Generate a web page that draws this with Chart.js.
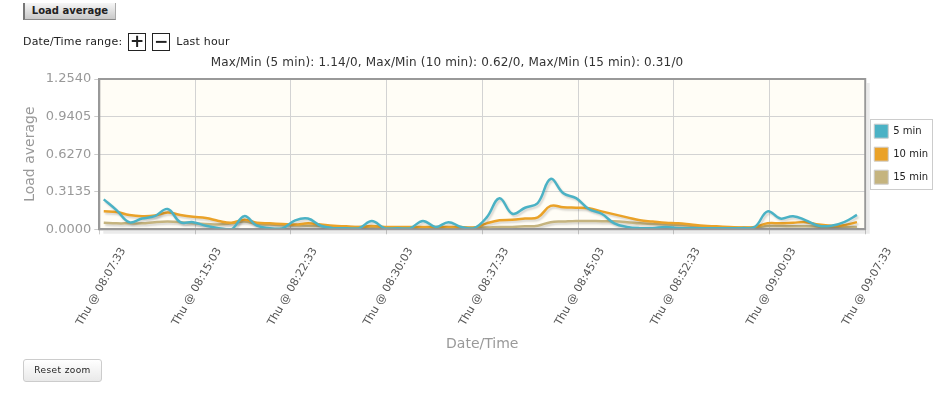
<!DOCTYPE html>
<html>
<head>
<meta charset="utf-8">
<script src="https://cdn.jsdelivr.net/npm/chart.js@4.4.1/dist/chart.umd.min.js"></script>
<style>
  html, body { margin: 0; padding: 0; background: #fff; }
  body { width: 940px; height: 394px; position: relative; overflow: hidden;
         font-family: "DejaVu Sans", Verdana, sans-serif; color: #222; }
  #chart { position: absolute; left: 0; top: 0; }
  .btn-load { position: absolute; left: 23px; top: 3px; width: 93px; height: 17px;
              background: linear-gradient(#f6f6f6, #c9c9c9); border-left: 2px solid #777;
              border-bottom: 1px solid #888; border-right: 1px solid #aaa; box-sizing: border-box;
              font-weight: bold; font-size: 10px; line-height: 16px; text-align: center; }
  .range { position: absolute; left: 23px; top: 33px; font-size: 11px; line-height: 18px; letter-spacing: 0.2px; }
  .range span { display: inline-block; vertical-align: top; }
  .zbox { width: 16px; height: 16px; border: 1px solid #222; background: #fff; margin-left: 6px;
          font-weight: bold; font-size: 17px; line-height: 15px; text-align: center; }
  .title { position: absolute; left: 0; top: 55px; width: 894px; text-align: center;
           font-size: 12px; letter-spacing: 0.15px; color: #333; }
  .reset { position: absolute; left: 23px; top: 359px; width: 79px; height: 23px; box-sizing: border-box;
           border: 1px solid #ccc; border-radius: 3px; background: linear-gradient(#fff, #e9e9e9);
           font-size: 9px; letter-spacing: 0.4px; line-height: 21px; text-align: center; color: #222; }
</style>
</head>
<body>
<canvas id="chart" width="940" height="394"></canvas>
<div class="btn-load">Load average</div>
<div class="range"><span>Date/Time range:</span><span class="zbox">+</span><span class="zbox">&minus;</span><span style="margin-left:6px">Last hour</span></div>
<div class="title">Max/Min (5 min): 1.14/0, Max/Min (10 min): 0.62/0, Max/Min (15 min): 0.31/0</div>
<div class="reset">Reset zoom</div>
<script>
// series names
const seriesNames = ['5 min', '10 min', '15 min'];
// load averages, one sample per minute
const load5 = [0.25, 0.16, 0.06, 0.09, 0.11, 0.17, 0.06, 0.06, 0.03, 0.01,
  0.00, 0.11, 0.03, 0.01, 0.01, 0.075, 0.09, 0.03, 0.01, 0.01,
  0.01, 0.07, 0.01, 0.01, 0.01, 0.07, 0.02, 0.06, 0.02, 0.01,
  0.10, 0.26, 0.13, 0.18, 0.22, 0.42, 0.30, 0.26, 0.17, 0.13,
  0.05, 0.02, 0.01, 0.01, 0.02, 0.01, 0.01, 0.01, 0.01, 0.01,
  0.01, 0.02, 0.15, 0.09, 0.11, 0.075, 0.03, 0.03, 0.06, 0.12];
const load10 = [0.15, 0.145, 0.12, 0.11, 0.115, 0.14, 0.12, 0.105, 0.095, 0.07,
  0.055, 0.08, 0.055, 0.05, 0.045, 0.04, 0.05, 0.04, 0.03, 0.025,
  0.02, 0.027, 0.02, 0.02, 0.02, 0.02, 0.02, 0.02, 0.02, 0.015,
  0.05, 0.075, 0.08, 0.09, 0.10, 0.195, 0.185, 0.18, 0.175, 0.15,
  0.125, 0.10, 0.075, 0.065, 0.055, 0.05, 0.04, 0.03, 0.025, 0.02,
  0.015, 0.02, 0.05, 0.05, 0.055, 0.06, 0.04, 0.03, 0.035, 0.06];
const load15 = [0.055, 0.05, 0.05, 0.05, 0.06, 0.065, 0.06, 0.05, 0.045, 0.04,
  0.05, 0.065, 0.045, 0.04, 0.035, 0.033, 0.03, 0.027, 0.025, 0.02,
  0.02, 0.02, 0.015, 0.015, 0.015, 0.015, 0.015, 0.015, 0.015, 0.015,
  0.015, 0.02, 0.02, 0.025, 0.03, 0.06, 0.065, 0.07, 0.07, 0.068,
  0.067, 0.06, 0.05, 0.045, 0.04, 0.035, 0.03, 0.02, 0.015, 0.015,
  0.015, 0.015, 0.027, 0.027, 0.025, 0.025, 0.022, 0.02, 0.02, 0.02];
// minutes after 08:07:33 of the first sample
const firstSample = 0.35;
// axis ticks
const yTicks = [0, 0.3135, 0.6270, 0.9405, 1.2540];
const xTickMinutes = [0, 7.5, 15, 22.5, 30, 37.5, 45, 52.5, 60];
const xTickLabels = ['Thu @ 08:07:33', 'Thu @ 08:15:03', 'Thu @ 08:22:33', 'Thu @ 08:30:03',
  'Thu @ 08:37:33', 'Thu @ 08:45:03', 'Thu @ 08:52:33', 'Thu @ 09:00:03', 'Thu @ 09:07:33'];

const colors = ['#4bb2c5', '#eaa228', '#c5b47f'];

const toPoints = arr => arr.map((v, i) => ({ x: firstSample + i, y: v }));

// cream plot background + border
const plotFrame = {
  id: 'plotFrame',
  beforeDraw(chart) {
    const { ctx, chartArea: a } = chart;
    ctx.save();
    ctx.fillStyle = '#fffdf6';
    ctx.fillRect(a.left, a.top, a.right - a.left, a.bottom - a.top);
    ctx.restore();
  },
  afterDraw(chart) {
    const { ctx, chartArea: a } = chart;
    ctx.save();
    ctx.strokeStyle = 'rgba(0,0,0,0.08)';
    ctx.lineWidth = 3;
    ctx.beginPath();
    ctx.moveTo(a.right + 3, a.top + 4);
    ctx.lineTo(a.right + 3, a.bottom + 3);
    ctx.lineTo(a.left + 4, a.bottom + 3);
    ctx.stroke();
    ctx.strokeStyle = '#999';
    ctx.lineWidth = 2;
    ctx.strokeRect(a.left, a.top, a.right - a.left, a.bottom - a.top);
    // legend frame
    const boxes = chart.legend.legendHitBoxes;
    if (boxes && boxes.length) {
      const l = Math.min(...boxes.map(b => b.left)) - 4;
      const t = Math.min(...boxes.map(b => b.top)) - 5;
      const r = Math.max(...boxes.map(b => b.left + b.width)) + 4;
      const btm = Math.max(...boxes.map(b => b.top + b.height)) + 5;
      ctx.strokeStyle = '#ccc';
      ctx.lineWidth = 1;
      ctx.strokeRect(Math.round(l) + 0.5, Math.round(t) + 0.5, Math.round(r - l), Math.round(btm - t));
    }
    ctx.restore();
  }
};

// soft shadow under the lines
const lineShadow = {
  id: 'lineShadow',
  beforeDatasetDraw(chart) {
    const ctx = chart.ctx;
    ctx.save();
    ctx.shadowColor = 'rgba(0,0,0,0.16)';
    ctx.shadowOffsetX = 1.5;
    ctx.shadowOffsetY = 2;
    ctx.shadowBlur = 2;
  },
  afterDatasetDraw(chart) {
    chart.ctx.restore();
  }
};

const loadData = {
  datasets: [load5, load10, load15].map((arr, i) => ({
    label: seriesNames[i],
    data: toPoints(arr),
    borderColor: colors[i],
    backgroundColor: colors[i],
    borderWidth: 2.5,
    pointRadius: 0,
    tension: 0.4,
    fill: false
  }))
};

const loadOptions = {
  responsive: false,
  animation: false,
  layout: { padding: { left: 22, top: 79, right: 2, bottom: 41 } },
  scales: {
    x: {
      type: 'linear',
      min: 0,
      max: 60,
      afterBuildTicks: axis => { axis.ticks = xTickMinutes.map(v => ({ value: v })); },
      ticks: {
        callback: (v, i) => xTickLabels[i],
        minRotation: 60,
        maxRotation: 60,
        labelOffset: 24,
        padding: 11,
        color: '#555',
        font: { family: 'DejaVu Sans', size: 11 }
      },
      grid: { color: '#d3d3d3', tickLength: 5, tickColor: '#ccc' },
      border: { color: '#999', width: 2 },
      title: { display: true, text: 'Date/Time', color: '#999',
               font: { family: 'DejaVu Sans', size: 14 }, padding: { top: -3, bottom: 0 } }
    },
    y: {
      min: 0,
      max: 1.254,
      afterBuildTicks: axis => { axis.ticks = yTicks.map(v => ({ value: v })); },
      ticks: {
        callback: v => v.toFixed(4),
        padding: 3,
        color: '#999',
        font: { family: 'DejaVu Sans', size: 13 }
      },
      grid: { color: '#d3d3d3', tickLength: 5, tickColor: '#ccc' },
      border: { color: '#999', width: 2 },
      title: { display: true, text: 'Load average', color: '#999',
               font: { family: 'DejaVu Sans', size: 14 }, padding: { top: 0, bottom: 4 } }
    }
  },
  plugins: {
    legend: {
      position: 'right',
      fullSize: false,
      labels: {
        boxWidth: 14,
        boxHeight: 14,
        padding: 9,
        color: '#222',
        font: { family: 'DejaVu Sans', size: 10 },
        generateLabels: chart => Chart.defaults.plugins.legend.labels.generateLabels(chart)
          .map(l => ({ ...l, strokeStyle: '#ccc', lineWidth: 1 }))
      }
    },
    tooltip: { enabled: false }
  }
};

const loadChart = new Chart(document.getElementById('chart'), {
  type: 'line',
  data: loadData,
  options: loadOptions,
  plugins: [plotFrame, lineShadow]
});
</script>
</body>
</html>
